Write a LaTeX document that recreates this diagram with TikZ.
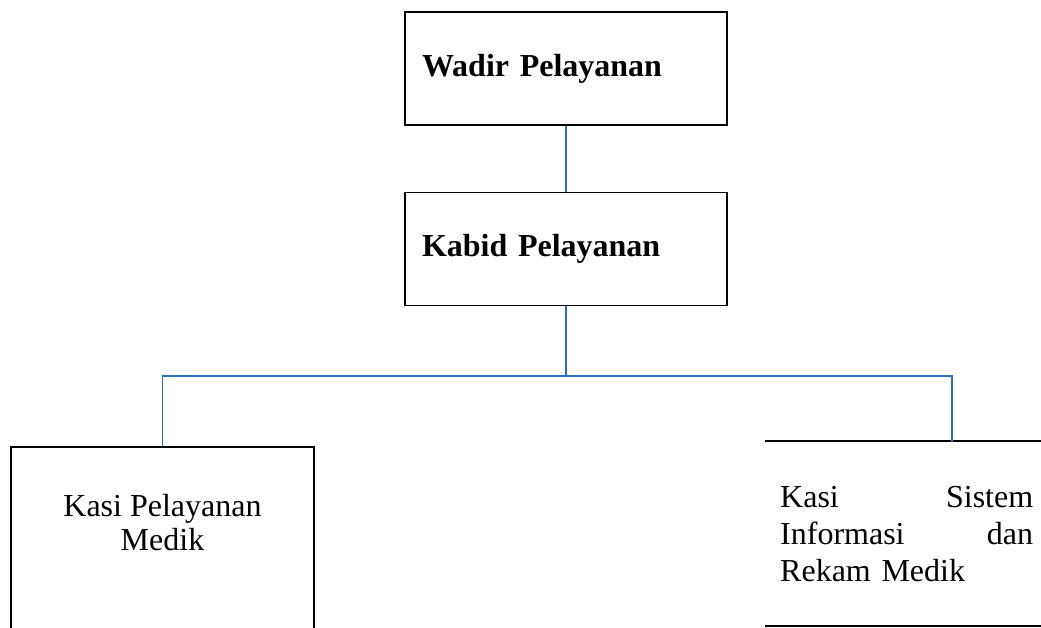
\documentclass[tikz,border=0pt]{standalone}
\usepackage{fontspec}
\setmainfont{Liberation Serif}
\usepackage{tikz}
\usetikzlibrary{positioning}
\definecolor{linkblue}{RGB}{45,110,190}

\begin{document}
\begin{tikzpicture}[x=1pt,y=-1pt,
	headbox/.style={draw, line width=1.6pt, minimum width=322pt, minimum height=113pt,
		text width=288pt, inner xsep=17pt, align=left,
		font=\fontsize{32}{34}\selectfont\bfseries},
	unitbox/.style={line width=1.6pt, minimum width=303pt, minimum height=193pt, inner sep=0pt},
	unittext/.style={inner sep=0pt, font=\fontsize{32}{34}\selectfont},
	conn/.style={draw=linkblue, line width=1.4pt}]
	\useasboundingbox (0,0) rectangle (1041,627);
	\clip (0,0) rectangle (1041,627);
	\fill[white] (0,0) rectangle (1041,627);
	\node[headbox] (wadir) at (566,68.5) {Wadir Pelayanan};
	\node[headbox] (kabid) at (566,249) {Kabid Pelayanan};
	\node[unitbox, draw] (kpm) at (162.5,543.5) {};
	\node[unitbox, minimum width=294pt, minimum height=183pt] (krm) at (913,533.5) {};
	\node[unittext, align=center, below=48pt of kpm.north] (kpmtext) {Kasi Pelayanan\\Medik};
	\node[unittext, anchor=north west, text width=253pt, align=left,
		font=\fontsize{32}{37}\selectfont] (krmtext) at (780,486)
		{Kasi\hfill Sistem\\Informasi\hfill dan\\Rekam Medik};
	\draw[line width=1.6pt] (krm.north west) -- (krm.north east);
	\draw[line width=1.6pt] (krm.south west) -- (krm.south east);
	\coordinate (bus) at (566,376);
	\coordinate (rdrop) at (952,442);
	\draw[conn] (wadir) -- (kabid);
	\draw[conn] (kabid) -- (bus);
	\draw[conn] (kpm.north) |- (bus) -| (rdrop);
\end{tikzpicture}
\end{document}
